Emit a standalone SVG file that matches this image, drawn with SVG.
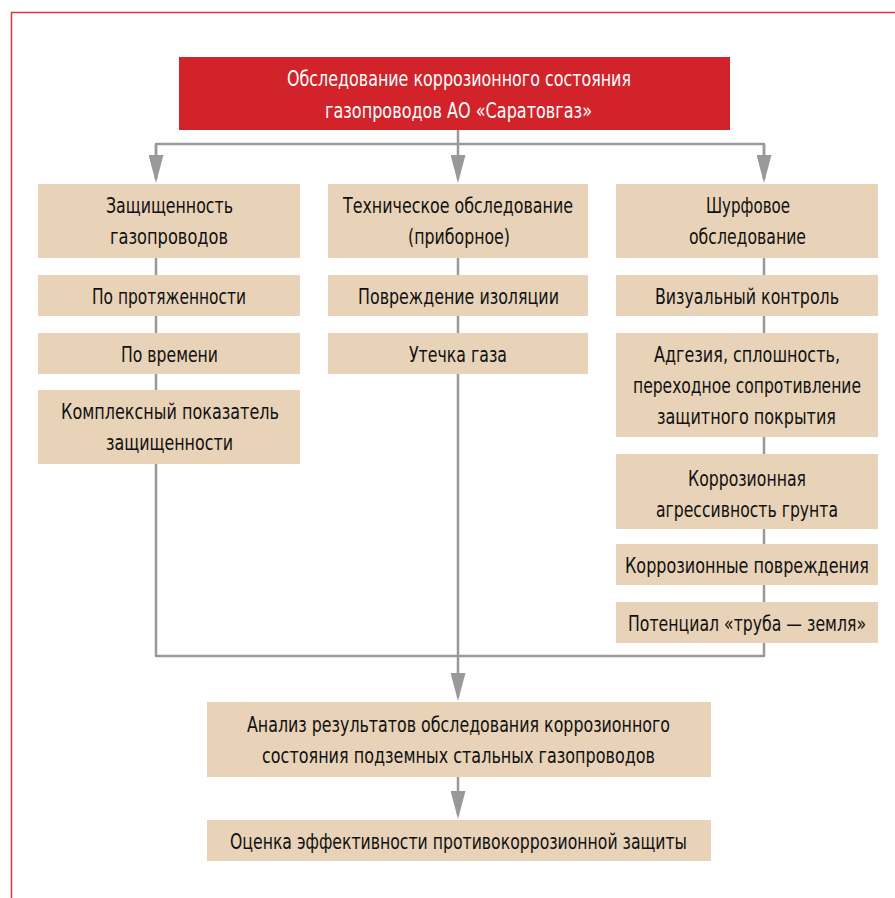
<svg xmlns="http://www.w3.org/2000/svg" width="895" height="898" viewBox="0 0 895 898">
<defs>
<style>
.frame{fill:none;stroke:#d9363f;stroke-width:1.5}
.box{fill:#e8d3b8}
.red{fill:#d2232a}
.t{font-family:"DejaVu Sans Condensed","DejaVu Sans",sans-serif;font-stretch:condensed;font-size:22px;fill:#111;text-anchor:middle;lengthAdjust:spacingAndGlyphs}
.w{fill:#fff}
.ln{fill:none;stroke:#999;stroke-width:2.5;stroke-linejoin:round}
</style>
<marker id="ah" markerUnits="userSpaceOnUse" viewBox="0 0 28 15" refX="24" refY="7.5" markerWidth="28" markerHeight="15" orient="auto">
<path d="M0,0 L28,7.5 L0,15 z" fill="#999"/>
</marker>
</defs>
<rect width="895" height="898" fill="#fff"/>
<rect class="frame" x="11.5" y="12.5" width="900" height="900"/>

<g id="connectors">
<path class="ln" d="M458,130 V179" marker-end="url(#ah)"/>
<path class="ln" d="M156,179 V144 H764 V179" />
<path class="ln" d="M156,144 V179" marker-end="url(#ah)"/>
<path class="ln" d="M764,144 V179" marker-end="url(#ah)"/>
<path class="ln" d="M156,258 V656 H764 V258"/>
<path class="ln" d="M458,258 V697" marker-end="url(#ah)"/>
<path class="ln" d="M458,777 V815" marker-end="url(#ah)"/>
</g>

<g id="title">
<rect class="red" x="179" y="57" width="551" height="73"/>
<text class="t w" x="459" y="86" textLength="344" lengthAdjust="spacingAndGlyphs">Обследование коррозионного состояния</text>
<text class="t w" x="458.5" y="118" textLength="267" lengthAdjust="spacingAndGlyphs">газопроводов АО «Саратовгаз»</text>
</g>

<g id="c1-head">
<rect class="box" x="38" y="184" width="262" height="74"/>
<text class="t" x="169.5" y="213" textLength="127" lengthAdjust="spacingAndGlyphs">Защищенность</text>
<text class="t" x="169" y="244" textLength="118" lengthAdjust="spacingAndGlyphs">газопроводов</text>
</g>
<g id="c1-1">
<rect class="box" x="38" y="275" width="262" height="41"/>
<text class="t" x="169" y="304" textLength="154" lengthAdjust="spacingAndGlyphs">По протяженности</text>
</g>
<g id="c1-2">
<rect class="box" x="38" y="333" width="262" height="41"/>
<text class="t" x="169.5" y="362" textLength="97" lengthAdjust="spacingAndGlyphs">По времени</text>
</g>
<g id="c1-3">
<rect class="box" x="38" y="390" width="262" height="74"/>
<text class="t" x="170" y="419" textLength="218" lengthAdjust="spacingAndGlyphs">Комплексный показатель</text>
<text class="t" x="169.5" y="450" textLength="127" lengthAdjust="spacingAndGlyphs">защищенности</text>
</g>

<g id="c2-head">
<rect class="box" x="328" y="184" width="260" height="74"/>
<text class="t" x="458" y="213" textLength="230" lengthAdjust="spacingAndGlyphs">Техническое обследование</text>
<text class="t" x="459" y="244" textLength="102" lengthAdjust="spacingAndGlyphs">(приборное)</text>
</g>
<g id="c2-1">
<rect class="box" x="328" y="275" width="260" height="41"/>
<text class="t" x="458.5" y="304" textLength="201" lengthAdjust="spacingAndGlyphs">Повреждение изоляции</text>
</g>
<g id="c2-2">
<rect class="box" x="328" y="333" width="260" height="41"/>
<text class="t" x="458" y="362" textLength="98" lengthAdjust="spacingAndGlyphs">Утечка газа</text>
</g>

<g id="c3-head">
<rect class="box" x="616" y="184" width="262" height="74"/>
<text class="t" x="748" y="213" textLength="84" lengthAdjust="spacingAndGlyphs">Шурфовое</text>
<text class="t" x="747.5" y="244" textLength="117" lengthAdjust="spacingAndGlyphs">обследование</text>
</g>
<g id="c3-1">
<rect class="box" x="616" y="275" width="262" height="41"/>
<text class="t" x="747" y="304" textLength="184" lengthAdjust="spacingAndGlyphs">Визуальный контроль</text>
</g>
<g id="c3-2">
<rect class="box" x="616" y="333" width="262" height="104"/>
<text class="t" x="747" y="362" textLength="186" lengthAdjust="spacingAndGlyphs">Адгезия, сплошность,</text>
<text class="t" x="747" y="393" textLength="228" lengthAdjust="spacingAndGlyphs">переходное сопротивление</text>
<text class="t" x="746.5" y="424" textLength="179" lengthAdjust="spacingAndGlyphs">защитного покрытия</text>
</g>
<g id="c3-3">
<rect class="box" x="616" y="454" width="262" height="75"/>
<text class="t" x="747" y="486" textLength="118" lengthAdjust="spacingAndGlyphs">Коррозионная</text>
<text class="t" x="747" y="517" textLength="182" lengthAdjust="spacingAndGlyphs">агрессивность грунта</text>
</g>
<g id="c3-4">
<rect class="box" x="616" y="544" width="262" height="41"/>
<text class="t" x="747" y="573" textLength="244" lengthAdjust="spacingAndGlyphs">Коррозионные повреждения</text>
</g>
<g id="c3-5">
<rect class="box" x="616" y="602" width="262" height="41"/>
<text class="t" x="747" y="631" textLength="238" lengthAdjust="spacingAndGlyphs">Потенциал «труба — земля»</text>
</g>

<g id="analysis">
<rect class="box" x="207" y="702" width="504" height="75"/>
<text class="t" x="458.5" y="732" textLength="423" lengthAdjust="spacingAndGlyphs">Анализ результатов обследования коррозионного</text>
<text class="t" x="458.5" y="763" textLength="393" lengthAdjust="spacingAndGlyphs">состояния подземных стальных газопроводов</text>
</g>
<g id="assessment">
<rect class="box" x="207" y="820" width="504" height="41"/>
<text class="t" x="458.5" y="849" textLength="457" lengthAdjust="spacingAndGlyphs">Оценка эффективности противокоррозионной защиты</text>
</g>
</svg>
